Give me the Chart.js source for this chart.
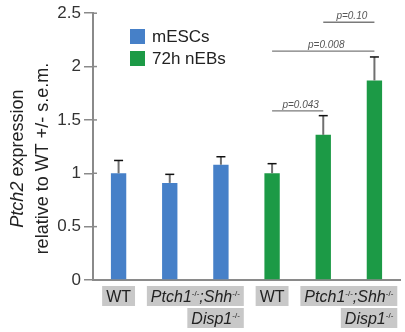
<!DOCTYPE html>
<html lang="en">
<head>
  <meta charset="UTF-8">
  <title>Ptch2 expression</title>
  <script src="https://cdn.jsdelivr.net/npm/chart.js"></script>
  <style>
    html, body { margin: 0; padding: 0; background: #fff; }
    #wrap { width: 405px; height: 332px; }
  </style>
</head>
<body>
  <div id="wrap"><canvas id="ptchChart" width="405" height="332"></canvas></div>

  <script>
    // bars, in order along the x axis
    const categories = ['WT', 'Ptch1;Shh', 'Ptch1;Shh;Disp1', 'WT', 'Ptch1;Shh', 'Ptch1;Shh;Disp1'];
    const mescValues = [1.0, 0.91, 1.08, null, null, null];
    const nebValues = [null, null, null, 1.0, 1.36, 1.87];
    // upper s.e.m. (only the upper half is drawn)
    const semValues = [0.12, 0.08, 0.075, 0.09, 0.18, 0.22];
    const yTicks = [0, 0.5, 1, 1.5, 2, 2.5];

    // significance brackets: [from bar, to bar, height, label]
    const pBrackets = [
      [3, 4, 1.585, 'p=0.043'],
      [3, 5, 2.145, 'p=0.008'],
      [4, 5, 2.415, 'p=0.10']
    ];

    const blue = '#4680c8';
    const green = '#1c9a46';
    const fontFam = "'Liberation Sans', Arial, sans-serif";

    // draw text made of normal / italic / superscript parts
    function partFont(p, size) {
      if (p[1] === 's') return Math.round(size * 0.5) + 'px ' + fontFam;
      return (p[1] === 'i' ? 'italic ' : '') + size + 'px ' + fontFam;
    }
    function richWidth(ctx, parts, size) {
      let w = 0;
      parts.forEach(p => {
        ctx.font = partFont(p, size);
        w += ctx.measureText(p[0]).width;
      });
      return w;
    }
    function drawRich(ctx, parts, x, y, size) {
      parts.forEach(p => {
        ctx.font = partFont(p, size);
        ctx.fillText(p[0], x, p[1] === 's' ? y - size * 0.38 : y);
        x += ctx.measureText(p[0]).width;
      });
    }

    const sup = '-/-';
    const ptchShh = [['Ptch1', 'i'], [sup, 's'], [';Shh', 'i'], [sup, 's']];
    const disp = [['Disp1', 'i'], [sup, 's']];
    // x label boxes: [first bar, last bar, row, parts]
    const labelBoxes = [
      [0, 0, 0, [['WT', 'n']]],
      [1, 2, 0, ptchShh],
      [2, 2, 1, disp],
      [3, 3, 0, [['WT', 'n']]],
      [4, 5, 0, ptchShh],
      [5, 5, 1, disp]
    ];

    const extras = {
      id: 'extras',
      afterDatasetsDraw(chart) {
        const ctx = chart.ctx;
        const x = chart.scales.x, y = chart.scales.y;
        const area = chart.chartArea;
        ctx.save();

        // inner half of the y ticks (they cross the axis)
        ctx.strokeStyle = '#8a8a8a';
        ctx.lineWidth = 1.5;
        yTicks.forEach(v => {
          const ty = y.getPixelForValue(v);
          ctx.beginPath();
          ctx.moveTo(area.left, ty);
          ctx.lineTo(area.left + 4, ty);
          ctx.stroke();
        });

        // error bars
        const allValues = mescValues.map((v, i) => v !== null ? v : nebValues[i]);
        allValues.forEach((v, i) => {
          const cx = x.getPixelForValue(i);
          const top = y.getPixelForValue(v + semValues[i]);
          ctx.strokeStyle = '#707070';
          ctx.lineWidth = 2;
          ctx.beginPath();
          ctx.moveTo(cx, y.getPixelForValue(v));
          ctx.lineTo(cx, top);
          ctx.stroke();
          ctx.strokeStyle = '#111';
          ctx.lineWidth = 1.5;
          ctx.beginPath();
          ctx.moveTo(cx - 4.5, top);
          ctx.lineTo(cx + 4.5, top);
          ctx.stroke();
        });

        // p value brackets
        pBrackets.forEach(b => {
          const x1 = x.getPixelForValue(b[0]), x2 = x.getPixelForValue(b[1]);
          const py = y.getPixelForValue(b[2]);
          ctx.strokeStyle = '#7a7a7a';
          ctx.lineWidth = 1.3;
          ctx.beginPath();
          ctx.moveTo(x1, py);
          ctx.lineTo(x2, py);
          ctx.stroke();
          ctx.fillStyle = '#555';
          ctx.font = 'italic 10px ' + fontFam;
          ctx.textAlign = 'center';
          ctx.textBaseline = 'alphabetic';
          ctx.fillText(b[3], (x1 + x2) / 2 + 3, py - 3);
        });

        // legend
        ctx.textAlign = 'left';
        ctx.textBaseline = 'middle';
        [['mESCs', blue], ['72h nEBs', green]].forEach((item, i) => {
          const ly = 36 + i * 22;
          ctx.fillStyle = item[1];
          ctx.fillRect(130, ly - 7, 15, 15);
          ctx.fillStyle = '#222';
          ctx.font = '17px ' + fontFam;
          ctx.fillText(item[0], 152, ly + 1);
        });

        // x label boxes
        ctx.textBaseline = 'alphabetic';
        const size = 16;
        const rowRight = {};
        labelBoxes.forEach(b => {
          const w = richWidth(ctx, b[3], size) + 8;
          const mid = (x.getPixelForValue(b[0]) + x.getPixelForValue(b[1])) / 2;
          let left = mid - w / 2;
          if (b[2] === 1) left = rowRight[b[1]] - w;
          else rowRight[b[1]] = left + w;
          const top = area.bottom + 6 + b[2] * 22;
          ctx.fillStyle = '#c8c8c8';
          ctx.fillRect(left, top, w, 20);
          ctx.fillStyle = '#222';
          drawRich(ctx, b[3], left + 4, top + 16, size);
        });

        // y axis title, rotated
        ctx.translate(0, area.top + (area.bottom - area.top) / 2 + 12);
        ctx.rotate(-Math.PI / 2);
        ctx.fillStyle = '#222';
        const t1 = [['Ptch2', 'i'], [' expression', 'n']];
        const t2 = [['relative to WT +/- s.e.m.', 'n']];
        drawRich(ctx, t1, -richWidth(ctx, t1, 18) / 2, 23, 18);
        drawRich(ctx, t2, -richWidth(ctx, t2, 18) / 2, 48, 18);

        ctx.restore();
      }
    };

    new Chart(document.getElementById('ptchChart'), {
      type: 'bar',
      data: {
        labels: categories,
        datasets: [
          { label: 'mESCs', data: mescValues, backgroundColor: blue },
          { label: '72h nEBs', data: nebValues, backgroundColor: green }
        ]
      },
      options: {
        responsive: false,
        animation: false,
        layout: { padding: { top: 12, right: 5, bottom: 52, left: 0 } },
        datasets: {
          bar: { grouped: false, barPercentage: 0.3, categoryPercentage: 1 }
        },
        plugins: {
          legend: { display: false },
          tooltip: { enabled: false }
        },
        scales: {
          x: {
            ticks: { display: false },
            grid: { display: false, drawTicks: false },
            border: { display: true, color: '#8a8a8a', width: 2 },
            afterFit: s => { s.height = 0; }
          },
          y: {
            min: 0,
            max: 2.5,
            afterBuildTicks: s => { s.ticks = yTicks.map(v => ({ value: v })); },
            ticks: {
              color: '#333',
              font: { size: 17, family: fontFam },
              padding: 3,
              callback: v => String(v)
            },
            grid: { drawOnChartArea: false, tickLength: 9, color: '#8a8a8a', lineWidth: 1.5 },
            border: { color: '#8a8a8a', width: 2 },
            afterFit: s => { s.width = 93; }
          }
        }
      },
      plugins: [extras]
    });
  </script>
</body>
</html>
